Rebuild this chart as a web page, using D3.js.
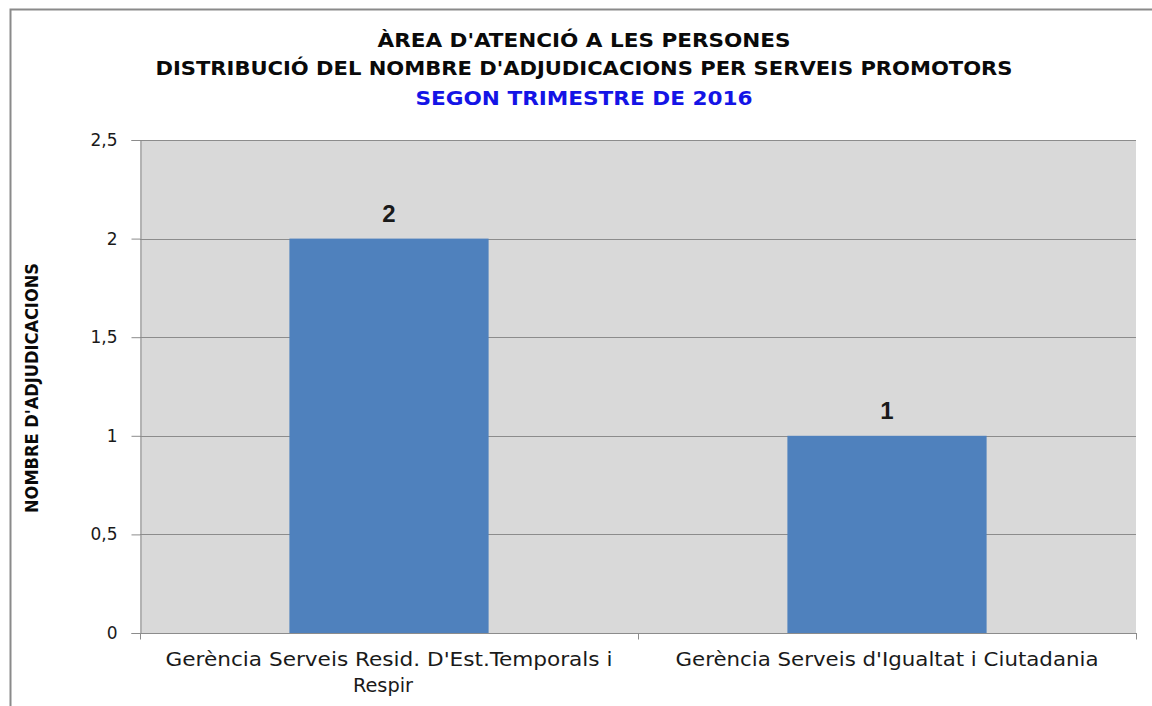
<!DOCTYPE html>
<html><head><meta charset="utf-8">
<script src="https://cdn.jsdelivr.net/npm/d3@7"></script>
<style>body{margin:0;background:#fff}svg{display:block}</style>
</head><body>
<script>
const categories = [["Gerència Serveis Resid. D'Est.Temporals i", "Respir"], ["Gerència Serveis d'Igualtat i Ciutadania"]];
const values = [2, 1];
const yTicks = [0, 0.5, 1, 1.5, 2, 2.5];
const yTickLabels = ["0", "0,5", "1", "1,5", "2", "2,5"];
const titleLines = ["ÀREA D'ATENCIÓ A LES PERSONES", "DISTRIBUCIÓ DEL NOMBRE D'ADJUDICACIONS PER SERVEIS PROMOTORS", "SEGON TRIMESTRE DE 2016"];
const yAxisTitle = "NOMBRE D'ADJUDICACIONS";

const W = 1152, H = 706;
const svg = d3.select("body").append("svg").attr("width", W).attr("height", H);
const narrow = "'Liberation Sans Narrow','Arial Narrow','DejaVu Sans Condensed',sans-serif";

// outer frame
svg.append("path").attr("d", `M10.5,${H} L10.5,9.5 L${W},9.5`).attr("fill", "none").attr("stroke", "#8a8a8a").attr("stroke-width", 2);

const plot = {l: 140, r: 1136, t: 140, b: 633};
const x = d3.scaleBand().domain(d3.range(categories.length)).range([plot.l, plot.r]).paddingInner(0.6).paddingOuter(0.3);
const xb = d3.scaleBand().domain(d3.range(categories.length)).range([plot.l, plot.r]);
const y = d3.scaleLinear().domain([0, 2.5]).range([plot.b, plot.t]);

svg.append("rect").attr("x", plot.l).attr("y", plot.t).attr("width", plot.r - plot.l).attr("height", plot.b - plot.t).attr("fill", "#d9d9d9");

// gridlines
svg.append("g").selectAll("line").data(yTicks.filter(d => d > 0)).join("line")
  .attr("x1", plot.l).attr("x2", plot.r)
  .attr("y1", d => Math.round(y(d)) + 0.5).attr("y2", d => Math.round(y(d)) + 0.5)
  .attr("stroke", "#8c8c8c").attr("stroke-width", 1);

// bars
svg.append("g").selectAll("rect").data(values).join("rect")
  .attr("x", (d, i) => x(i)).attr("width", x.bandwidth())
  .attr("y", d => y(d)).attr("height", d => y(0) - y(d))
  .attr("fill", "#4f81bd");

// y axis
const yAxis = d3.axisLeft(y).tickValues(yTicks).tickSize(9).tickFormat((d, i) => yTickLabels[i]).tickPadding(14);
const gy = svg.append("g").attr("transform", `translate(${plot.l + 0.5},0)`).call(yAxis);
gy.select(".domain").attr("stroke", "#8c8c8c");
gy.selectAll(".tick line").attr("stroke", "#8c8c8c");
gy.selectAll(".tick text").attr("font-family", "Verdana,'DejaVu Sans',sans-serif").attr("font-size", 17).attr("fill", "#1a1a1a");

// x axis
const gx = svg.append("g").attr("transform", `translate(0,${plot.b + 0.5})`);
gx.append("line").attr("x1", plot.l).attr("x2", plot.r + 1).attr("stroke", "#8c8c8c");
gx.selectAll("line.t").data(d3.range(categories.length + 1)).join("line").attr("class", "t")
  .attr("x1", i => Math.round(plot.l + i * xb.bandwidth()) + 0.5).attr("x2", i => Math.round(plot.l + i * xb.bandwidth()) + 0.5)
  .attr("y1", 0).attr("y2", 6).attr("stroke", "#8c8c8c");

const catWidths = [[447, 60], [423]];
const catDx = [[0, -6], [0]];
categories.forEach((lines, i) => {
  lines.forEach((ln, j) => {
    svg.append("text").attr("x", xb(i) + xb.bandwidth() / 2 + catDx[i][j]).attr("y", 666 + j * 26)
      .attr("text-anchor", "middle").attr("font-family", narrow).attr("font-size", 19).attr("fill", "#1a1a1a")
      .attr("textLength", catWidths[i][j]).attr("lengthAdjust", "spacingAndGlyphs").text(ln);
  });
});

// data labels
svg.append("g").selectAll("text").data(values).join("text")
  .attr("x", (d, i) => x(i) + x.bandwidth() / 2).attr("y", d => y(d) - 17)
  .attr("text-anchor", "middle").attr("font-family", "Arial,'Liberation Sans',sans-serif").attr("font-weight", "bold").attr("font-size", 24).attr("fill", "#1a1a1a")
  .text(d => d);

// titles
const tw = [413, 857, 337];
const ty = [47, 75, 105];
titleLines.forEach((t, i) => {
  svg.append("text").attr("x", 584).attr("y", ty[i]).attr("text-anchor", "middle")
    .attr("font-family", narrow).attr("font-weight", "bold").attr("font-size", 20)
    .attr("fill", i === 2 ? "#1414e6" : "#0a0a0a")
    .attr("textLength", tw[i]).attr("lengthAdjust", "spacingAndGlyphs").text(t);
});

// y axis title
svg.append("text").attr("transform", "translate(38,388) rotate(-90)").attr("text-anchor", "middle")
  .attr("font-family", narrow).attr("font-weight", "bold").attr("font-size", 17).attr("fill", "#0a0a0a")
  .attr("textLength", 250).attr("lengthAdjust", "spacingAndGlyphs").text(yAxisTitle);
</script>
</body></html>
